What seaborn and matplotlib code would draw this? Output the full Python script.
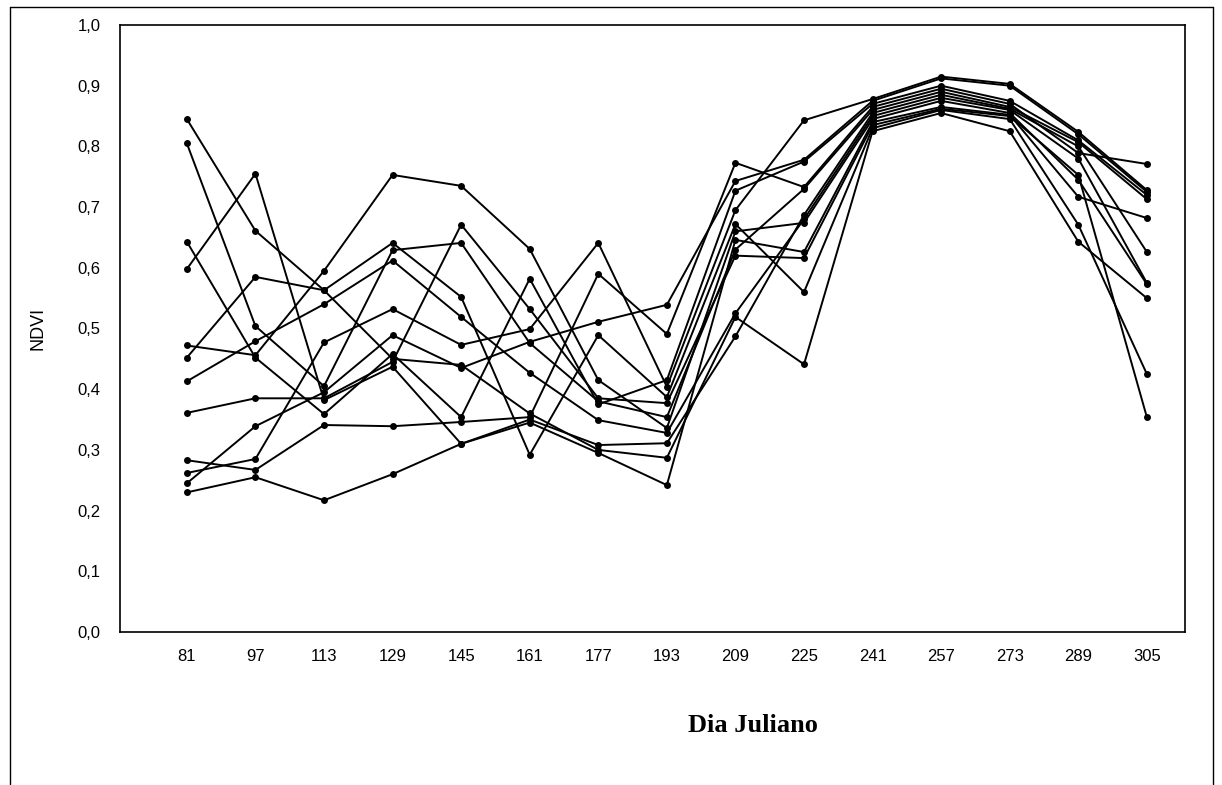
import numpy as np
import pandas as pd
import matplotlib
matplotlib.use("Agg")
import matplotlib.pyplot as plt
import seaborn as sns
from matplotlib.lines import Line2D

days = [81, 97, 113, 129, 145, 161, 177, 193, 209, 225, 241, 257, 273, 289, 305]

s01 = [0.845, 0.661, 0.563, 0.450, 0.440, 0.360, 0.300, 0.287, 0.519, 0.441, 0.825, 0.855, 0.825, 0.643, 0.550]
s02 = [0.805, 0.504, 0.405, 0.629, 0.641, 0.476, 0.380, 0.354, 0.630, 0.730, 0.860, 0.890, 0.865, 0.807, 0.713]
s03 = [0.643, 0.452, 0.359, 0.458, 0.354, 0.582, 0.375, 0.415, 0.727, 0.775, 0.870, 0.900, 0.875, 0.810, 0.720]
s04 = [0.598, 0.755, 0.382, 0.437, 0.310, 0.345, 0.295, 0.242, 0.646, 0.626, 0.840, 0.865, 0.852, 0.717, 0.682]
s05 = [0.472, 0.456, 0.595, 0.753, 0.735, 0.631, 0.415, 0.336, 0.660, 0.674, 0.845, 0.875, 0.855, 0.745, 0.573]
s06 = [0.452, 0.585, 0.563, 0.641, 0.552, 0.292, 0.489, 0.387, 0.672, 0.560, 0.830, 0.860, 0.845, 0.671, 0.425]
s07 = [0.413, 0.479, 0.540, 0.612, 0.519, 0.427, 0.349, 0.328, 0.525, 0.680, 0.850, 0.880, 0.860, 0.780, 0.575]
s08 = [0.361, 0.385, 0.385, 0.445, 0.671, 0.532, 0.385, 0.377, 0.620, 0.616, 0.835, 0.862, 0.850, 0.753, 0.354]
s09 = [0.283, 0.267, 0.341, 0.339, 0.346, 0.354, 0.590, 0.491, 0.773, 0.733, 0.865, 0.895, 0.870, 0.789, 0.771]
s10 = [0.262, 0.285, 0.477, 0.532, 0.473, 0.499, 0.641, 0.404, 0.695, 0.843, 0.878, 0.915, 0.903, 0.824, 0.728]
s11 = [0.245, 0.339, 0.395, 0.489, 0.435, 0.478, 0.511, 0.539, 0.743, 0.778, 0.875, 0.912, 0.900, 0.820, 0.725]
s12 = [0.230, 0.255, 0.217, 0.260, 0.310, 0.350, 0.308, 0.311, 0.487, 0.687, 0.855, 0.885, 0.862, 0.800, 0.626]

series = [s01, s02, s03, s04, s05, s06, s07, s08, s09, s10, s11, s12]
y_ticks = [0.0, 0.1, 0.2, 0.3, 0.4, 0.5, 0.6, 0.7, 0.8, 0.9, 1.0]
y_tick_labels = ["0,0", "0,1", "0,2", "0,3", "0,4", "0,5", "0,6", "0,7", "0,8", "0,9", "1,0"]

rows = []
for i, s in enumerate(series):
    for d, v in zip(days, s):
        rows.append({"serie": i, "dia": d, "ndvi": v})
df = pd.DataFrame(rows)

sns.set_style("white")
plt.rcParams["font.family"] = ["Liberation Sans", "DejaVu Sans"]
plt.rcParams["text.color"] = "black"
plt.rcParams["axes.labelcolor"] = "black"

fig = plt.figure(figsize=(12.22, 7.85), dpi=100)
ax = fig.add_axes([120 / 1222, 1 - 632 / 785, (1185 - 120) / 1222, (632 - 25) / 785])

sns.lineplot(data=df, x="dia", y="ndvi", units="serie", estimator=None,
             color="black", marker="o", markersize=5, markeredgewidth=0,
             linewidth=1.4, ax=ax, legend=False)

ax.set_xlim(65.4, 313.9)
ax.set_ylim(0, 1.0)
ax.set_xticks(days)
ax.set_xticklabels([str(d) for d in days], fontsize=12)
ax.set_yticks(y_ticks)
ax.set_yticklabels(y_tick_labels, fontsize=12)
ax.tick_params(axis="both", length=0, pad=12, colors="black")
ax.tick_params(axis="y", pad=14)

for sp in ax.spines.values():
    sp.set_color("black")
    sp.set_linewidth(1.2)

ax.set_xlabel("")
fig.text(753 / 1222, 1 - 725 / 785, "Dia Juliano", fontsize=19, fontweight="bold",
         family=["Liberation Serif", "DejaVu Serif"], ha="center", va="center", color="black")
ax.set_ylabel("NDVI", fontsize=13, labelpad=22, color="black")

# outer figure frame (top, left, right)
fig.add_artist(Line2D([10 / 1222, 10 / 1222], [0, 1 - 7 / 785], transform=fig.transFigure, color="black", lw=1))
fig.add_artist(Line2D([10 / 1222, 1213 / 1222], [1 - 7 / 785, 1 - 7 / 785], transform=fig.transFigure, color="black", lw=1))
fig.add_artist(Line2D([1213 / 1222, 1213 / 1222], [0, 1 - 7 / 785], transform=fig.transFigure, color="black", lw=1))

fig.savefig("out.png", dpi=100, facecolor="white")
